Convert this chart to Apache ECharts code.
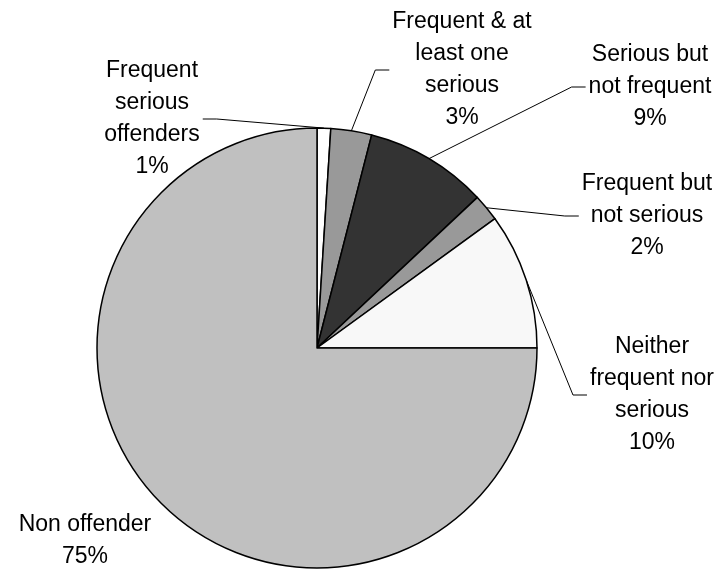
<!DOCTYPE html>
<html>
<head>
<meta charset="utf-8">
<title>Offender groups</title>
<script src="https://cdn.jsdelivr.net/npm/echarts@6/dist/echarts.min.js"></script>
<style>
  html, body { margin: 0; padding: 0; background: #ffffff; }
  #chart { width: 721px; height: 571px; }
</style>
</head>
<body>
<div id="chart"></div>
<script>
// Offender groups, share of the sample (%), clockwise from 12 o'clock
const categories = [
  'Frequent\nserious\noffenders',
  'Frequent & at\nleast one\nserious',
  'Serious but\nnot frequent',
  'Frequent but\nnot serious',
  'Neither\nfrequent nor\nserious',
  'Non offender'
];
const shares = [1, 3, 9, 2, 10, 75];
const sliceColors = ['#ffffff', '#999999', '#333333', '#999999', '#f8f8f8', '#c0c0c0'];

// Where each label block sits (centre) and which side its leader attaches to
const labelSpots = [
  { x: 152, y: 119, side: 'right' },
  { x: 462, y: 70,  side: 'left' },
  { x: 650, y: 87,  side: 'left' },
  { x: 647, y: 216, side: 'left' },
  { x: 652, y: 395, side: 'left' },
  { x: 85,  y: 541, side: null }
];
const TICK = 14;
const CENTER = [317, 348];
const RADIUS = 220;

const chart = echarts.init(document.getElementById('chart'), null, { renderer: 'canvas' });

const data = categories.map((name, i) => ({
  name: name,
  value: shares[i],
  itemStyle: { color: sliceColors[i] },
  labelLine: { show: labelSpots[i].side !== null }
}));

// Mid-arc point of slice i on the outer edge (fallback if the library gives no guide points)
function midArc(i) {
  const total = shares.reduce((a, b) => a + b, 0);
  let before = 0;
  for (let k = 0; k < i; k++) before += shares[k];
  const ang = ((before + shares[i] / 2) / total) * Math.PI * 2;
  return [CENTER[0] + RADIUS * Math.sin(ang), CENTER[1] - RADIUS * Math.cos(ang)];
}

chart.setOption({
  animation: false,
  backgroundColor: '#ffffff',
  series: [{
    type: 'pie',
    center: CENTER,
    radius: RADIUS,
    startAngle: 90,
    clockwise: true,
    avoidLabelOverlap: false,
    data: data,
    itemStyle: { borderColor: '#000000', borderWidth: 1.5 },
    emphasis: { disabled: true },
    label: {
      show: true,
      position: 'outside',
      formatter: p => p.name + '\n' + p.value + '%',
      fontFamily: 'Liberation Sans, Arial, sans-serif',
      fontSize: 23,
      lineHeight: 32,
      color: '#000000',
      align: 'center'
    },
    labelLine: {
      show: true,
      length: 10,
      length2: 10,
      smooth: false,
      lineStyle: { color: '#000000', width: 1 }
    },
    labelLayout: function (params) {
      const spot = labelSpots[params.dataIndex];
      const out = { x: spot.x, y: spot.y, align: 'center', verticalAlign: 'middle' };
      if (spot.side) {
        const w = params.labelRect.width;
        const start = (params.labelLinePoints && params.labelLinePoints[0]) || midArc(params.dataIndex);
        let ax, tx;
        if (spot.side === 'left') {
          ax = spot.x - w / 2 - 3;
          tx = ax - TICK;
        } else {
          ax = spot.x + w / 2 + 3;
          tx = ax + TICK;
        }
        out.labelLinePoints = [[start[0], start[1]], [tx, spot.y], [ax, spot.y]];
      }
      return out;
    }
  }]
});
</script>
</body>
</html>
